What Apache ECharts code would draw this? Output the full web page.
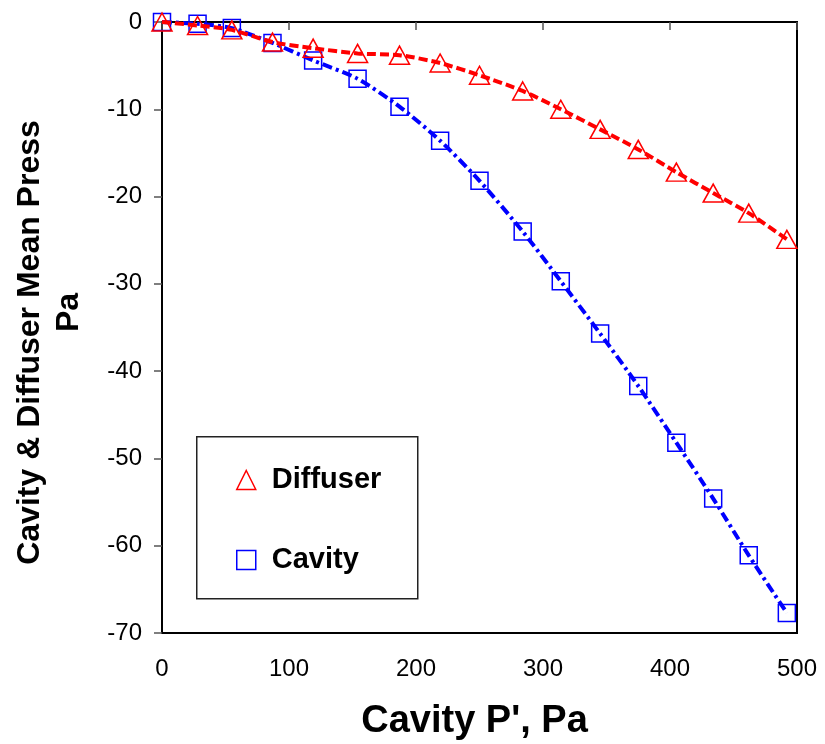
<!DOCTYPE html>
<html>
<head>
<meta charset="utf-8">
<script src="https://cdn.jsdelivr.net/npm/echarts@6/dist/echarts.min.js"></script>
<style>
  html, body { margin: 0; padding: 0; background: #ffffff; }
  #chart { width: 825px; height: 744px; }
</style>
</head>
<body>
<div id="chart"></div>
<script>
// Cavity pressure P' (Pa), shared by both series
const cavityP = [0, 28, 55, 87, 119, 154, 187, 219, 250, 284, 314, 345, 375, 405, 434, 462, 492];
// Mean pressures (Pa)
const diffuserPress = [0, -0.4, -0.9, -2.3, -3.0, -3.6, -3.8, -4.7, -6.1, -7.9, -10.0, -12.3, -14.6, -17.2, -19.6, -21.9, -24.9];
const cavityPress = [0, -0.2, -0.7, -2.4, -4.4, -6.5, -9.7, -13.6, -18.2, -24.0, -29.7, -35.7, -41.7, -48.2, -54.6, -61.1, -67.7];

const seriesNames = ['Diffuser', 'Cavity'];
const xTitle = "Cavity P', Pa";
const yTitleLines = ['Cavity & Diffuser Mean Press', 'Pa'];

const FONT = "'Liberation Sans', Arial, sans-serif";
const pairs = (xs, ys) => xs.map((x, i) => [x, ys[i]]);

const chart = echarts.init(document.getElementById('chart'), null, { renderer: 'canvas' });

chart.setOption({
  animation: false,
  backgroundColor: '#ffffff',
  grid: {
    left: 162, right: 28, top: 22, bottom: 111,
    outerBoundsMode: 'none', containLabel: false,
    show: true, borderColor: '#000000', borderWidth: 2, backgroundColor: 'transparent'
  },
  xAxis: [
    {
      type: 'value', position: 'bottom', min: 0, max: 500, interval: 100,
      name: xTitle, nameLocation: 'middle', nameGap: 70,
      nameTextStyle: { fontFamily: FONT, fontWeight: 'bold', fontSize: 38, color: '#000', padding: [0, 10, 0, 0] },
      axisLine: { show: false },
      axisTick: { show: false },
      splitLine: { show: false },
      axisLabel: { margin: 24, fontFamily: FONT, fontSize: 24, color: '#000' }
    },
    {
      type: 'value', position: 'top', min: 0, max: 500, interval: 100,
      axisLine: { show: true, lineStyle: { color: '#000', width: 2 } },
      axisTick: { show: true, inside: true, length: 8, lineStyle: { color: '#555', width: 1.5 } },
      axisLabel: { show: false },
      splitLine: { show: false }
    }
  ],
  yAxis: {
    type: 'value', min: -70, max: 0, interval: 10,
    name: '{a|' + yTitleLines[0] + '}\n{b|' + yTitleLines[1] + '}',
    nameLocation: 'middle', nameRotate: 90, nameGap: 73,
    nameTextStyle: {
      fontFamily: FONT, fontWeight: 'bold', fontSize: 32, lineHeight: 39, color: '#000', align: 'center',
      rich: {
        a: { fontFamily: FONT, fontWeight: 'bold', fontSize: 32, lineHeight: 39, color: '#000', padding: [0, 30, 0, 0] },
        b: { fontFamily: FONT, fontWeight: 'bold', fontSize: 32, lineHeight: 39, color: '#000', padding: [0, 0, 0, 30] }
      }
    },
    axisLine: { show: true, lineStyle: { color: '#000', width: 2 } },
    axisTick: { show: true, inside: false, length: 8, lineStyle: { color: '#555', width: 1.5 } },
    splitLine: { show: false },
    axisLabel: { margin: 20, fontFamily: FONT, fontSize: 24, color: '#000' }
  },
  legend: {
    orient: 'vertical',
    left: 231, top: 460,
    itemWidth: 19, itemHeight: 19, itemGap: 50,
    textStyle: { fontFamily: FONT, fontWeight: 'bold', fontSize: 29, lineHeight: 30, color: '#000', padding: [0, 0, 0, 11] },
    data: [
      { name: 'Diffuser', icon: 'triangle', itemStyle: { color: 'transparent', borderColor: '#ff0000', borderWidth: 1.5 } },
      { name: 'Cavity', icon: 'rect', itemStyle: { color: 'transparent', borderColor: '#0000ff', borderWidth: 1.5 } }
    ]
  },
  graphic: [
    {
      type: 'rect', left: 196, top: 436, z: 1,
      shape: { width: 221, height: 162 },
      style: { fill: 'transparent', stroke: '#222', lineWidth: 1.5 }
    }
  ],
  series: [
    {
      name: seriesNames[0], type: 'line', data: pairs(cavityP, diffuserPress),
      smooth: 0.25, symbol: 'triangle', symbolSize: [20, 18],
      itemStyle: { color: 'transparent', borderColor: '#ff0000', borderWidth: 1.5 },
      lineStyle: { color: '#ff0000', width: 4, type: [9, 4] },
      z: 3
    },
    {
      name: seriesNames[1], type: 'line', data: pairs(cavityP, cavityPress),
      smooth: 0.25, symbol: 'rect', symbolSize: 17,
      itemStyle: { color: 'transparent', borderColor: '#0000ff', borderWidth: 1.5 },
      lineStyle: { color: '#0000ff', width: 4, type: [10, 4, 3, 4] },
      z: 2
    }
  ]
});
</script>
</body>
</html>
